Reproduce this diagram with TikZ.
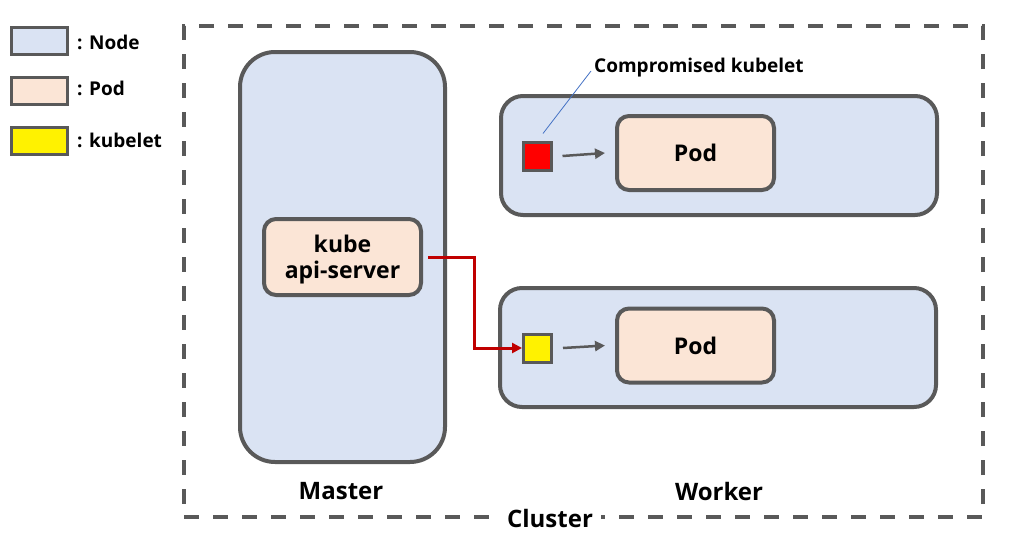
\documentclass[tikz,border=0pt]{standalone}
\usepackage{fontspec}
\setmainfont{Open Sans}
\usetikzlibrary{arrows.meta}

\definecolor{edge}{HTML}{595959}
\definecolor{nodefill}{HTML}{DAE3F3}
\definecolor{podfill}{HTML}{FBE5D6}
\definecolor{apicall}{HTML}{C00000}
\definecolor{callout}{HTML}{4472C4}

\newcommand{\fs}[1]{\fontsize{#1}{#1}\selectfont\bfseries}

\tikzset{
  clusterbox/.style={draw=edge, line width=4pt, dash pattern=on 15pt off 14pt,
    minimum width=799pt, minimum height=491pt, inner sep=0pt},
  hostbox/.style={draw=edge, line width=4pt, fill=nodefill, inner sep=0pt},
  podbox/.style={draw=edge, line width=4pt, fill=podfill, rounded corners=12pt,
    minimum width=157pt, minimum height=74pt, inner sep=0pt, align=center,
    font=\fs{23}},
  kubeletbox/.style={draw=edge, line width=3pt, minimum size=28pt, inner sep=0pt},
  legendbox/.style={draw=edge, line width=3pt, minimum width=56pt,
    minimum height=27pt, inner sep=0pt},
  legendtext/.style={anchor=west, inner sep=0pt, font=\fs{19}},
  caption/.style={inner sep=1pt, font=\fs{24}},
  flow/.style={draw=edge, line width=2.5pt, -{Triangle[length=10pt,width=10pt]}},
  apiflow/.style={draw=apicall, line width=3pt, -{Triangle[length=10pt,width=10pt]}},
  pointer/.style={draw=callout, line width=0.8pt},
}

\begin{document}
\begin{tikzpicture}[x=1pt, y=-1pt]
  \useasboundingbox (0,0) rectangle (1011,557);

  % legend
  \node[legendbox, fill=nodefill] (lnode) at (39.5,41) {};
  \node[legendbox, fill=podfill] (lpod) at (39.5,91) {};
  \node[legendbox, fill=yellow] (lkubelet) at (39.5,141) {};
  \node[legendtext] (tnode) at (77,42) {: Node};
  \node[legendtext] (tpod) at (77,88) {: Pod};
  \node[legendtext] (tkubelet) at (77,140) {: kubelet};

  % cluster frame
  \node[clusterbox] (cluster) at (583.5,271.5) {};
  \node[caption, fill=white, inner xsep=8pt] (clusterlabel) at (550,518) {Cluster};

  % master node with the api-server
  \node[hostbox, rounded corners=35pt, minimum width=205pt, minimum height=410pt]
    (master) at (342.5,257) {};
  \node[podbox, minimum height=76pt] (api) at (342.5,257) {};
  \node[align=center, inner sep=0pt, font=\fs{23}] (apitext) at (342.5,259.5)
    {kube\\[3pt]api-server};
  \node[caption] (masterlabel) at (341,491) {Master};

  % worker nodes
  \node[hostbox, rounded corners=22pt, minimum width=436pt, minimum height=119pt]
    (worker1) at (719,155.5) {};
  \node[hostbox, rounded corners=22pt, minimum width=436pt, minimum height=119pt]
    (worker2) at (718,347.5) {};
  \node[caption] (workerlabel) at (719,491) {Worker};

  \node[podbox] (pod1) at (695.5,153) {Pod};
  \node[podbox] (pod2) at (695.5,345.5) {Pod};

  \node[kubeletbox, fill=red] (kubelet1) at (537,156) {};
  \node[kubeletbox, fill=yellow] (kubelet2) at (537.5,348) {};

  \draw[flow] ([xshift=10pt]kubelet1.east) -- ([xshift=-10pt]pod1.west);
  \draw[flow] ([xshift=10pt]kubelet2.east) -- ([xshift=-10pt]pod2.west);

  % api-server to kubelet
  \draw[apiflow] ([xshift=5pt]api.east) -- ++(46,0) |- (kubelet2.west);

  % callout
  \node[anchor=west, inner sep=0pt, font=\fs{19}] (compromised) at (594,68)
    {Compromised kubelet};
  \draw[pointer] ([shift={(6,-7)}]kubelet1.north) -- ([xshift=-3pt,yshift=-3pt]compromised.west);
\end{tikzpicture}
\end{document}
